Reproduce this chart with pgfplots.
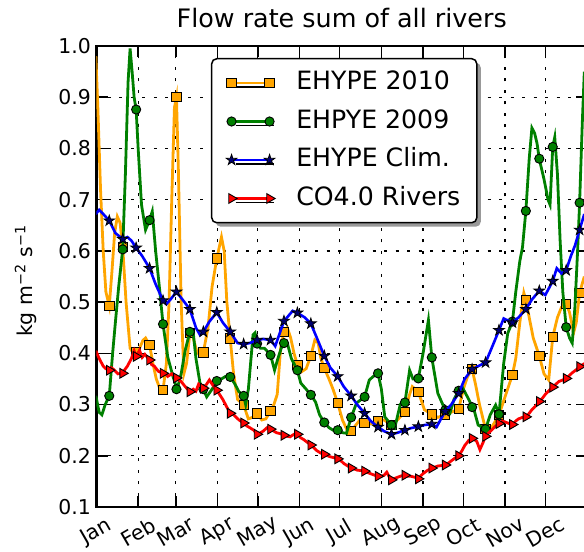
\documentclass[border=0pt]{standalone}
\usepackage{fontspec}
\setmainfont{DejaVu Sans}
\usepackage{pgfplots}
\pgfplotsset{compat=1.18}
\usetikzlibrary{shadows}
\definecolor{morange}{HTML}{FFA500}
\definecolor{mgreen}{HTML}{008000}
\definecolor{mblue}{HTML}{0000FF}
\definecolor{mred}{HTML}{FF0000}
\pgfdeclareplotmark{fstar}{%
\pgfpathmoveto{\pgfpointpolar{90}{\pgfplotmarksize}}%
\pgfpathlineto{\pgfpointpolar{126}{0.382\pgfplotmarksize}}%
\pgfpathlineto{\pgfpointpolar{162}{\pgfplotmarksize}}%
\pgfpathlineto{\pgfpointpolar{198}{0.382\pgfplotmarksize}}%
\pgfpathlineto{\pgfpointpolar{234}{\pgfplotmarksize}}%
\pgfpathlineto{\pgfpointpolar{270}{0.382\pgfplotmarksize}}%
\pgfpathlineto{\pgfpointpolar{306}{\pgfplotmarksize}}%
\pgfpathlineto{\pgfpointpolar{342}{0.382\pgfplotmarksize}}%
\pgfpathlineto{\pgfpointpolar{18}{\pgfplotmarksize}}%
\pgfpathlineto{\pgfpointpolar{54}{0.382\pgfplotmarksize}}%
\pgfpathclose
\pgfusepathqfillstroke}
\tikzset{
 osq/.style={mark=square*, mark size=4.7bp, mark options={fill=morange, draw=black, line width=0.9bp}},
 gci/.style={mark=*, mark size=4.6bp, mark options={fill=mgreen, draw=black, line width=0.9bp}},
 bst/.style={mark=fstar, mark size=5.6bp, mark options={fill=mblue!45!black, draw=black, line width=0.8bp}},
 rtr/.style={mark=triangle*, mark size=5.6bp, mark options={rotate=-90, fill=mred, draw=black, line width=0.9bp}},
}
\begin{document}
\begin{tikzpicture}
\useasboundingbox (-96.5bp,-45bp) rectangle (487.5bp,507bp);
\clip (-96.5bp,-45bp) rectangle (487.5bp,507bp);
\begin{axis}[
 at={(0bp,0bp)}, anchor=south west,
 scale only axis, width=490.5bp, height=461bp,
 xmin=0, xmax=365, ymin=0.1, ymax=1.0,
 xtick={0,31,59,90,120,151,181,212,243,273,304,334},
 xticklabels={Jan,Feb,Mar,Apr,May,Jun,Jul,Aug,Sep,Oct,Nov,Dec},
 ytick={0.1,0.2,0.3,0.4,0.5,0.6,0.7,0.8,0.9,1.0},
 yticklabel style={/pgf/number format/fixed, /pgf/number format/fixed zerofill, /pgf/number format/precision=1, /pgf/number format/assume math mode=true, font=\fontsize{20.5}{24}\selectfont, xshift=-2bp},
 xticklabel style={font=\fontsize{20.5}{24}\selectfont, yshift=-25bp, rotate=30, anchor=center},
 tick pos=both, tick align=inside, major tick length=11bp,
 tick style={black, line width=1.5bp},
 axis line style={line width=2.5bp},
 grid=major, major grid style={black, line width=1.3bp, dash pattern=on 3bp off 8.5bp},
 clip marker paths=true,
 title={Flow rate sum of all rivers},
 title style={font=\fontsize{25.5}{30}\selectfont, at={(0.5,1)}, anchor=base, yshift=13bp},
 ylabel={kg m\textsuperscript{−2} s\textsuperscript{−1}},
 ylabel style={font=\fontsize{20.5}{24}\selectfont, at={(axis description cs:-0.1437,0.49)}, anchor=center},
 legend cell align=left,
 legend style={at={(0.2334,0.974)}, anchor=north west, draw=black, line width=1.5bp, rounded corners=5bp, fill=white,
   drop shadow={shadow xshift=4bp, shadow yshift=-4bp, fill=black!40, opacity=1},
   font=\fontsize{25.3}{30}\selectfont, inner xsep=14.5bp, inner ysep=10.5bp, row sep=11bp,
   nodes={inner sep=2bp, text height=18.5bp, text depth=5bp}},
]
% ---------------- EHYPE 2010
\addplot[morange, line width=2.8bp, forget plot] coordinates {
(-0.5,0.98) (1,0.88) (3,0.72) (5,0.6) (7,0.52) (9.5,0.492) (11.5,0.56) (13.5,0.635) (15.5,0.667) (17.5,0.655) (19.5,0.608) (22,0.5) (25,0.41) (27.5,0.40) (29.5,0.403) (32,0.41) (34.5,0.425) (36.5,0.43) (39.5,0.416) (42,0.38) (44.5,0.35) (47,0.332) (49.5,0.328) (52,0.38) (54,0.5) (56,0.7) (58,0.88) (59.5,0.90) (61,0.75) (63,0.5) (65,0.36) (67,0.38) (69.5,0.44) (72,0.43) (75,0.40) (79.5,0.402) (83,0.45) (86,0.53) (89.5,0.585) (93,0.627) (95,0.6) (97,0.5) (99.5,0.429) (102,0.36) (105,0.31) (109.5,0.299) (113,0.272) (116,0.275) (119.5,0.283) (123,0.27) (126,0.272) (129.5,0.287) (132,0.3) (134.5,0.32) (137,0.41) (139.5,0.442) (142,0.45) (144.5,0.43) (147,0.4) (149.5,0.377) (152.5,0.364) (156,0.37) (159.5,0.395) (162.5,0.426) (165,0.42) (167,0.39) (169.5,0.371) (173,0.35) (176,0.33) (179.5,0.303) (183,0.27) (187,0.247) (189.5,0.248) (193,0.26) (196,0.27) (199.5,0.264) (204,0.262) (209.5,0.268) (214,0.27) (219.5,0.26) (224,0.27) (229.5,0.286) (233,0.32) (235,0.335) (239.5,0.325) (244,0.29) (249.5,0.281) (254,0.275) (259.5,0.28) (264,0.285) (269.5,0.291) (273,0.33) (276,0.354) (279.5,0.369) (282,0.34) (285,0.3) (289.5,0.252) (294,0.255) (299.5,0.28) (304,0.315) (309.5,0.358) (312,0.39) (315,0.46) (318,0.518) (319.5,0.504) (322,0.47) (325,0.43) (329.5,0.395) (333,0.36) (336.5,0.348) (339.5,0.432) (343,0.47) (346,0.49) (349.5,0.497) (352,0.48) (355,0.44) (357,0.46) (359.5,0.518) (363,0.55)
};
\addplot[only marks, osq,
 legend image code/.code={\draw[morange, line width=2.8bp] (0bp,0bp)--(38bp,0bp); \draw[osq, only marks] plot coordinates {(0bp,0bp) (38bp,0bp)}; \path (62bp,0bp);}]
coordinates {
(-0.5,0.98) (9.5,0.492) (19.5,0.608) (29.5,0.403) (39.5,0.416) (49.5,0.328) (59.5,0.90) (69.5,0.44) (79.5,0.402) (89.5,0.585) (99.5,0.429) (109.5,0.299) (119.5,0.283) (129.5,0.287) (139.5,0.442) (149.5,0.377) (159.5,0.395) (169.5,0.371) (179.5,0.303) (189.5,0.248) (199.5,0.264) (209.5,0.268) (219.5,0.26) (229.5,0.286) (239.5,0.325) (249.5,0.281) (259.5,0.28) (269.5,0.291) (279.5,0.369) (289.5,0.252) (299.5,0.28) (309.5,0.358) (319.5,0.504) (329.5,0.395) (339.5,0.432) (349.5,0.497) (359.5,0.518)
};
\addlegendentry{EHYPE 2010}
% ---------------- EHPYE 2009
\addplot[mgreen, line width=2.8bp, forget plot] coordinates {
(-0.5,0.317) (2,0.285) (4,0.28) (6.5,0.30) (9.5,0.317) (12,0.40) (14,0.459) (16.5,0.53) (19.5,0.603) (21.5,0.75) (23.5,0.93) (25,0.995) (26.5,0.95) (28,0.9) (29.5,0.876) (31,0.80) (33.5,0.69) (36.5,0.641) (39.5,0.66) (41.5,0.677) (44,0.60) (47,0.524) (49.5,0.457) (53,0.393) (57,0.354) (60,0.33) (63,0.36) (66,0.406) (69.5,0.442) (72,0.44) (74,0.39) (77,0.342) (79.5,0.33) (82,0.315) (86,0.33) (89.5,0.346) (93,0.35) (96,0.355) (99.5,0.354) (103,0.34) (106,0.325) (109.5,0.317) (111,0.30) (113,0.33) (116.5,0.436) (118,0.44) (119.5,0.419) (122,0.41) (125,0.41) (129.5,0.397) (132.5,0.367) (135,0.39) (137.5,0.41) (139.5,0.42) (142,0.42) (145,0.39) (149.5,0.367) (152,0.342) (156,0.33) (159.5,0.319) (163,0.305) (166,0.28) (169.5,0.265) (173,0.255) (176,0.25) (179.5,0.25) (183,0.245) (186,0.244) (189.5,0.275) (193.5,0.303) (197,0.31) (199.5,0.315) (203,0.348) (206,0.355) (209.5,0.361) (212,0.33) (214.5,0.276) (219.5,0.26) (222,0.255) (226,0.30) (229.5,0.304) (233,0.367) (235.5,0.35) (239.5,0.351) (243,0.40) (247,0.465) (249.5,0.392) (254,0.322) (259.5,0.289) (263,0.283) (266,0.31) (269.5,0.327) (272,0.335) (275,0.32) (277,0.31) (281,0.289) (284,0.26) (289.5,0.252) (293,0.28) (297,0.299) (299.5,0.281) (303,0.38) (306,0.439) (309.5,0.462) (312,0.52) (315,0.58) (317,0.607) (319.5,0.678) (322,0.78) (324,0.84) (326,0.83) (327.8,0.81) (329.5,0.78) (330.5,0.768) (333,0.74) (336,0.70) (337.5,0.69) (339.5,0.803) (341,0.822) (343,0.75) (345,0.62) (347,0.52) (349.5,0.451) (352,0.43) (354,0.42) (356,0.49) (358,0.6) (359.5,0.694) (361.5,0.85) (363,0.95)
};
\addplot[only marks, gci,
 legend image code/.code={\draw[mgreen, line width=2.8bp] (0bp,0bp)--(38bp,0bp); \draw[gci, only marks] plot coordinates {(0bp,0bp) (38bp,0bp)}; \path (62bp,0bp);}]
coordinates {
(-0.5,0.317) (9.5,0.317) (19.5,0.603) (29.5,0.876) (39.5,0.66) (49.5,0.457) (59.5,0.33) (69.5,0.442) (79.5,0.33) (89.5,0.346) (99.5,0.354) (109.5,0.317) (119.5,0.419) (129.5,0.397) (139.5,0.42) (149.5,0.367) (159.5,0.319) (169.5,0.265) (179.5,0.25) (189.5,0.275) (199.5,0.315) (209.5,0.361) (219.5,0.26) (229.5,0.304) (239.5,0.351) (249.5,0.392) (259.5,0.289) (269.5,0.327) (279.5,0.295) (289.5,0.252) (299.5,0.281) (309.5,0.462) (319.5,0.678) (329.5,0.78) (339.5,0.803) (349.5,0.451) (359.5,0.694)
};
\addlegendentry{EHPYE 2009}
% ---------------- EHYPE Clim.
\addplot[mblue, line width=2.6bp, forget plot] coordinates {
(-0.5,0.672) (2,0.68) (5,0.672) (9.5,0.659) (14,0.635) (19.5,0.623) (23,0.627) (26,0.62) (29.5,0.606) (34,0.59) (39.5,0.566) (44,0.535) (49.5,0.503) (52,0.496) (55,0.505) (59.5,0.52) (64,0.505) (69.5,0.486) (74,0.45) (77,0.436) (79.5,0.442) (84,0.462) (89.5,0.48) (94,0.46) (99.5,0.442) (105,0.42) (109.5,0.418) (114,0.42) (119.5,0.426) (124,0.428) (129.5,0.426) (133,0.414) (139.5,0.463) (146,0.483) (149.5,0.479) (155,0.47) (159.5,0.458) (164,0.43) (169.5,0.395) (174,0.372) (179.5,0.355) (184,0.335) (189.5,0.317) (194,0.30) (199.5,0.283) (204,0.268) (209.5,0.256) (214,0.248) (219.5,0.242) (224,0.245) (229.5,0.25) (234,0.254) (239.5,0.257) (244,0.26) (249.5,0.262) (253,0.256) (259.5,0.287) (264,0.30) (269.5,0.322) (274,0.35) (279.5,0.369) (284,0.375) (289.5,0.382) (294,0.41) (299.5,0.445) (303,0.468) (309.5,0.46) (314,0.47) (319.5,0.486) (324,0.505) (329.5,0.522) (334,0.514) (339.5,0.541) (342.5,0.566) (346,0.556) (349.5,0.562) (353,0.59) (356,0.61) (359.5,0.641) (363,0.672)
};
\addplot[only marks, bst,
 legend image code/.code={\draw[mblue, line width=2.6bp] (0bp,0bp)--(38bp,0bp); \draw[bst, only marks] plot coordinates {(0bp,0bp) (38bp,0bp)}; \path (62bp,0bp);}]
coordinates {
(-0.5,0.672) (9.5,0.659) (19.5,0.623) (29.5,0.606) (39.5,0.566) (49.5,0.503) (59.5,0.52) (69.5,0.486) (79.5,0.442) (89.5,0.48) (99.5,0.442) (109.5,0.418) (119.5,0.426) (129.5,0.426) (139.5,0.463) (149.5,0.479) (159.5,0.458) (169.5,0.395) (179.5,0.355) (189.5,0.317) (199.5,0.283) (209.5,0.256) (219.5,0.242) (229.5,0.25) (239.5,0.257) (249.5,0.262) (259.5,0.287) (269.5,0.322) (279.5,0.369) (289.5,0.382) (299.5,0.445) (309.5,0.46) (319.5,0.486) (329.5,0.522) (339.5,0.541) (349.5,0.562) (359.5,0.641)
};
\addlegendentry{EHYPE Clim.}
% ---------------- CO4.0 Rivers
\addplot[mred, line width=2.8bp, forget plot] coordinates {
(-0.5,0.405) (2,0.39) (5,0.375) (7,0.37) (9.5,0.367) (11,0.372) (13,0.368) (16,0.36) (19.5,0.361) (21,0.368) (23,0.375) (26,0.39) (28,0.405) (29.5,0.394) (32,0.406) (34,0.392) (36,0.398) (39.5,0.387) (41,0.378) (43,0.375) (46,0.365) (49.5,0.361) (51,0.362) (53,0.355) (56,0.36) (59.5,0.352) (61,0.348) (63,0.345) (66,0.335) (69.5,0.325) (72,0.33) (74,0.326) (76,0.34) (79.5,0.332) (82,0.34) (84,0.348) (86,0.34) (89.5,0.328) (92,0.318) (94,0.31) (97,0.295) (99.5,0.283) (102,0.28) (104,0.275) (106,0.27) (109.5,0.264) (112,0.258) (114,0.255) (117,0.25) (119.5,0.242) (122,0.245) (124,0.248) (127,0.255) (129.5,0.252) (132,0.248) (134,0.245) (137,0.243) (139.5,0.24) (142,0.238) (144,0.237) (147,0.242) (149.5,0.242) (152,0.235) (154,0.232) (157,0.226) (159.5,0.221) (162,0.215) (164,0.21) (167,0.205) (169.5,0.203) (172,0.2) (174,0.198) (177,0.196) (179.5,0.194) (182,0.19) (184,0.185) (187,0.18) (189.5,0.176) (192,0.174) (194,0.172) (197,0.171) (199.5,0.170) (202,0.167) (204,0.165) (207,0.162) (209.5,0.160) (212,0.16) (214,0.162) (216,0.168) (218,0.158) (219.5,0.153) (222,0.156) (224,0.158) (227,0.161) (229.5,0.162) (232,0.16) (234,0.16) (237,0.158) (239.5,0.155) (241,0.16) (243,0.165) (246,0.171) (249.5,0.176) (252,0.178) (254,0.18) (257,0.181) (259.5,0.182) (262,0.186) (264,0.19) (267,0.196) (269.5,0.200) (272,0.21) (274,0.22) (277,0.23) (279.5,0.234) (281,0.232) (283,0.228) (285.3,0.212) (287.5,0.225) (289.5,0.238) (292,0.245) (294,0.25) (297,0.258) (299.5,0.263) (302,0.268) (304,0.266) (307,0.263) (309.5,0.261) (312,0.268) (314,0.272) (317,0.275) (319.5,0.276) (322,0.283) (324,0.29) (327,0.298) (329.5,0.306) (332,0.313) (334,0.32) (337,0.328) (339.5,0.334) (342,0.34) (344,0.345) (347,0.348) (349.5,0.351) (352,0.357) (354,0.362) (357,0.368) (359.5,0.374) (363,0.38)
};
\addplot[only marks, rtr,
 legend image code/.code={\draw[mred, line width=2.8bp] (0bp,0bp)--(38bp,0bp); \draw[rtr, only marks] plot coordinates {(0bp,0bp) (38bp,0bp)}; \path (62bp,0bp);}]
coordinates {
(-0.5,0.392) (9.5,0.367) (19.5,0.361) (29.5,0.394) (39.5,0.387) (49.5,0.361) (59.5,0.352) (69.5,0.325) (79.5,0.332) (89.5,0.328) (99.5,0.283) (109.5,0.264) (119.5,0.242) (129.5,0.252) (139.5,0.24) (149.5,0.242) (159.5,0.221) (169.5,0.203) (179.5,0.194) (189.5,0.176) (199.5,0.170) (209.5,0.160) (219.5,0.153) (229.5,0.162) (239.5,0.155) (249.5,0.176) (259.5,0.182) (269.5,0.200) (279.5,0.234) (289.5,0.238) (299.5,0.263) (309.5,0.261) (319.5,0.276) (329.5,0.306) (339.5,0.334) (349.5,0.351) (359.5,0.374)
};
\addlegendentry{CO4.0 Rivers}
\end{axis}
\end{tikzpicture}
\end{document}
